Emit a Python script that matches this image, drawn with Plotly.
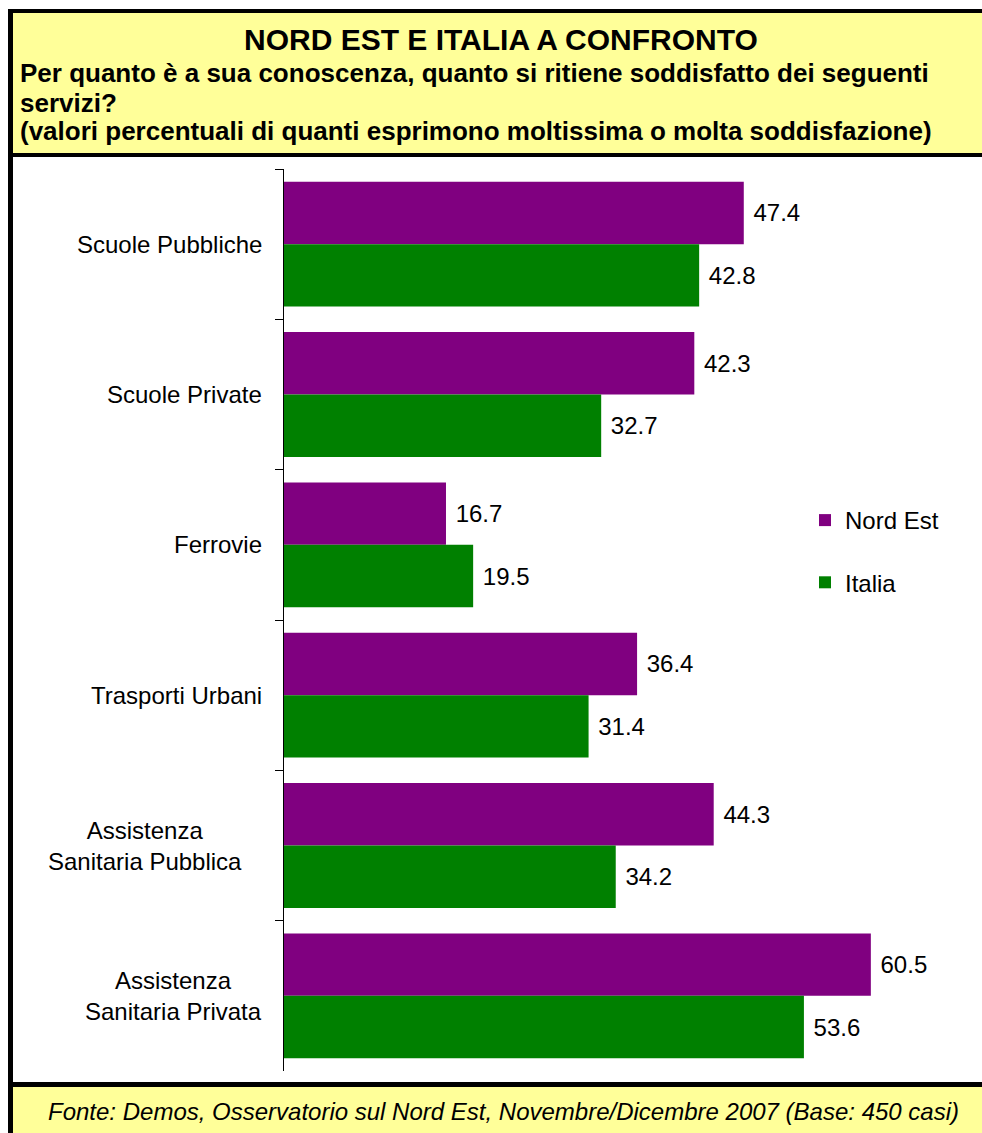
import plotly.graph_objects as go

categories = ["Scuole Pubbliche", "Scuole Private", "Ferrovie", "Trasporti Urbani",
              "Assistenza Sanitaria Pubblica", "Assistenza Sanitaria Privata"]
cat_labels = ["Scuole Pubbliche", "Scuole Private", "Ferrovie", "Trasporti Urbani",
              "Assistenza<br>Sanitaria Pubblica", "Assistenza<br>Sanitaria Privata"]
nord_est = [47.4, 42.3, 16.7, 36.4, 44.3, 60.5]
italia = [42.8, 32.7, 19.5, 31.4, 34.2, 53.6]

W, H = 982, 1133
L, R, T, B = 284, 19, 169, 62
PW, PH = W - L - R, H - T - B
FONT = "Liberation Sans, Arial, sans-serif"


def fx(px):
    return (px - L) / PW


def fy(py):
    return 1 - (py - T) / PH


fig = go.Figure()
fig.add_trace(go.Bar(
    y=categories, x=nord_est, orientation="h", name="Nord Est",
    marker=dict(color="#800080", line=dict(width=0)),
    texttemplate=" %{x:.1f}", textposition="outside", constraintext="none",
    textfont=dict(family=FONT, size=24, color="black"), cliponaxis=False,
    legendgroup="a",
))
fig.add_trace(go.Bar(
    y=categories, x=italia, orientation="h", name="Italia",
    marker=dict(color="#008000", line=dict(width=0)),
    texttemplate=" %{x:.1f}", textposition="outside", constraintext="none",
    textfont=dict(family=FONT, size=24, color="black"), cliponaxis=False,
    legendgroup="b",
))

shapes = [
    # header
    dict(type="rect", xref="paper", yref="paper", x0=fx(8), x1=fx(1000), y0=fy(9), y1=fy(157),
         fillcolor="black", line=dict(width=0), layer="above"),
    dict(type="rect", xref="paper", yref="paper", x0=fx(13), x1=fx(1000), y0=fy(13), y1=fy(153),
         fillcolor="#FFFF99", line=dict(width=0), layer="above"),
    # footer
    dict(type="rect", xref="paper", yref="paper", x0=fx(8), x1=fx(1000), y0=fy(1082), y1=fy(1140),
         fillcolor="black", line=dict(width=0), layer="above"),
    dict(type="rect", xref="paper", yref="paper", x0=fx(13), x1=fx(1000), y0=fy(1087), y1=fy(1140),
         fillcolor="#FFFF99", line=dict(width=0), layer="above"),
    # left border
    dict(type="rect", xref="paper", yref="paper", x0=fx(8), x1=fx(13), y0=fy(157), y1=fy(1082),
         fillcolor="black", line=dict(width=0), layer="above"),
]

annotations = [
    dict(text="<b>NORD EST E ITALIA A CONFRONTO</b>", x=fx(501), y=fy(39), xanchor="center",
         font=dict(family=FONT, size=30, color="black")),
    dict(text="<b>Per quanto è a sua conoscenza, quanto si ritiene soddisfatto dei seguenti</b>",
         x=fx(18), y=fy(73.5), xanchor="left", font=dict(family=FONT, size=26, color="black")),
    dict(text="<b>servizi?</b>", x=fx(18), y=fy(102.5), xanchor="left",
         font=dict(family=FONT, size=26, color="black")),
    dict(text="<b>(valori percentuali di quanti esprimono moltissima o molta soddisfazione)</b>",
         x=fx(18), y=fy(131), xanchor="left", font=dict(family=FONT, size=26, color="black")),
    dict(text="<i>Fonte: Demos, Osservatorio sul Nord Est, Novembre/Dicembre 2007 (Base: 450 casi)</i>",
         x=fx(503), y=fy(1111), xanchor="center", font=dict(family=FONT, size=24, color="black")),
]
for a in annotations:
    a.update(xref="paper", yref="paper", yanchor="middle", showarrow=False)

label_right = [264, 264, 264, 264, 244, 264]
for cat, lab, xr in zip(categories, cat_labels, label_right):
    annotations.append(dict(text=lab, xref="paper", yref="y", x=fx(xr), y=cat,
                            xanchor="right", yanchor="middle", align="center", showarrow=False,
                            font=dict(family=FONT, size=24, color="black")))

fig.update_layout(
    width=W, height=H,
    margin=dict(l=L, r=R, t=T, b=B, autoexpand=False),
    paper_bgcolor="white", plot_bgcolor="white",
    barmode="group", bargap=0.17, bargroupgap=0,
    showlegend=True,
    legend=dict(x=fx(805), y=fy(498), xanchor="left", yanchor="top",
                font=dict(family=FONT, size=24, color="black"),
                bgcolor="rgba(0,0,0,0)", traceorder="grouped", tracegroupgap=28),
    xaxis=dict(range=[0, 70], visible=False, fixedrange=True),
    yaxis=dict(autorange="reversed", showticklabels=False, ticks="outside", ticklen=8,
               tickcolor="black", tickson="boundaries", showline=True, linecolor="black",
               linewidth=1, showgrid=False, zeroline=False),
    shapes=shapes, annotations=annotations,
    font=dict(family=FONT),
)

fig.write_html("out.html")
